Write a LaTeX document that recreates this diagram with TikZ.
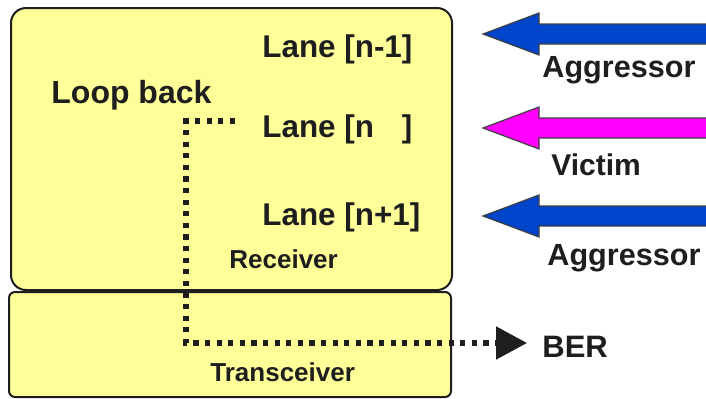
\documentclass[tikz,border=0pt]{standalone}
\usepackage{fontspec}
\setmainfont{Liberation Sans}
\usetikzlibrary{arrows.meta, positioning}

\definecolor{boxyellow}{RGB}{255,255,153}
\definecolor{aggrblue}{RGB}{0,68,204}
\definecolor{victimpink}{RGB}{255,0,255}
\definecolor{inkgray}{RGB}{30,30,30}

% block arrow pointing left: tip y, fill colour
\newcommand{\blockarrow}[2]{%
  \filldraw[bigarrow, fill=#2] (483,#1) -- (539,#1-21) -- (539,#1-10) -- (712,#1-10)
    -- (712,#1+10) -- (539,#1+10) -- (539,#1+21) -- cycle;}

\begin{document}
\begin{tikzpicture}[
        x=0.5pt, y=-0.5pt,
        box/.style={draw=inkgray, line width=1pt, fill=boxyellow},
        lbl/.style={anchor=base west, inner sep=0pt, text=inkgray, font=\bfseries\fontsize{15.7}{18}\selectfont},
        small/.style={lbl, font=\bfseries\fontsize{13}{15}\selectfont},
        loopline/.style={draw=inkgray, line width=2.6pt, dash pattern=on 2.6pt off 3.2pt},
        bigarrow/.style={draw=black!75, line width=0.6pt}
    ]
    \useasboundingbox (0,0) rectangle (706,398);

    % Boxes
    \draw[box, rounded corners=7.5pt] (11,8) rectangle (452,290);
    \draw[box, rounded corners=3pt] (9,292) rectangle (451,397);

    % Lanes
    \node (lane_prev) [lbl] at (262,57) {Lane [n-1]};
    \node (lane_n) [lbl] at (262,137) {Lane [n\phantom{-1}]};
    \node (lane_next) [lbl] at (262,225) {Lane [n+1]};
    \node (loop) [lbl, font=\bfseries\fontsize{16}{18}\selectfont] at (51,103) {Loop back};
    \node (receiver) [small] at (229,268) {Receiver};
    \node (transceiver) [small] at (210,381) {Transceiver};

    % Crosstalk sources
    \blockarrow{34}{aggrblue}
    \blockarrow{128}{victimpink}
    \blockarrow{216}{aggrblue}
    \node (aggr_top) [lbl, font=\bfseries\fontsize{15.3}{17}\selectfont] at (542,77) {Aggressor};
    \node (victim) [lbl, font=\bfseries\fontsize{15}{17}\selectfont] at (551,175) {Victim};
    \node (aggr_bot) [lbl, font=\bfseries\fontsize{15.3}{17}\selectfont] at (547,265) {Aggressor};

    % Loop back path
    \coordinate (loopstart) at (235,121);
    \coordinate (bertip) at (527,343);
    \node (ber) [lbl, font=\bfseries\fontsize{15.5}{17}\selectfont] at (542,357) {BER};
    \draw[loopline, -{Triangle[length=15.5pt, width=16pt]}]
        (loopstart) -- (186,121) -- (186,343) -- (bertip);

\end{tikzpicture}
\end{document}
